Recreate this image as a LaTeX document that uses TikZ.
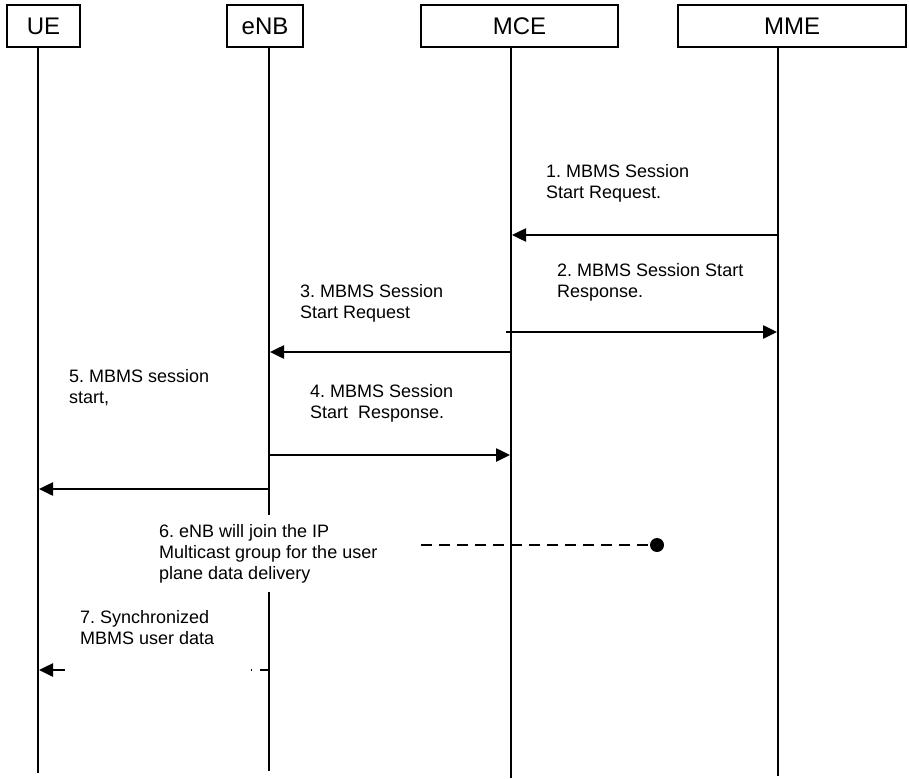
\documentclass[tikz,border=0pt]{standalone}
\usepackage{fontspec}
\setmainfont{Liberation Sans}
\usetikzlibrary{arrows.meta}
\frenchspacing

\begin{document}
\begin{tikzpicture}[x=1pt,y=-1pt,>={Triangle[length=14pt,width=13pt]},
  entity/.style={draw,line width=1.2pt,minimum height=42pt,inner sep=0pt,font=\fontsize{24}{28}\selectfont},
  life/.style={line width=1.5pt},
  msg/.style={->,line width=2.5pt},
  lbl/.style={anchor=north west,align=left,inner sep=0pt,font=\fontsize{18}{21}\selectfont}]
  \useasboundingbox (0,0) rectangle (909,778);
  % Entities
  \node[entity,minimum width=73pt] (ue) at (43.5,26) {UE};
  \node[entity,minimum width=76pt] (enb) at (265,26) {eNB};
  \node[entity,minimum width=197pt] (mce) at (519.5,26) {MCE};
  \node[entity,minimum width=228pt] (mme) at (792,26) {MME};
  % Lifelines
  \coordinate (ue-end) at (38,773);
  \coordinate (enb-end) at (269,771);
  \coordinate (mce-end) at (511,778);
  \coordinate (mme-end) at (778,776);
  \draw[life] (ue.south -| ue-end) -- (ue-end);
  \draw[life] (enb.south -| enb-end) -- (enb-end);
  \draw[life] (mce.south -| mce-end) -- (mce-end);
  \draw[life] (mme.south -| mme-end) -- (mme-end);
  % Messages
  \coordinate (m1a) at (778,235);  \coordinate (m1b) at (512,235);
  \coordinate (m2a) at (506,332);  \coordinate (m2b) at (777,332);
  \coordinate (m3a) at (511,352);  \coordinate (m3b) at (270,352);
  \coordinate (m4a) at (269,455);  \coordinate (m4b) at (510,455);
  \coordinate (m5a) at (269,489);  \coordinate (m5b) at (39,489);
  \coordinate (m6a) at (421,545);
  \coordinate (m7a) at (269,670);  \coordinate (m7b) at (39,670);
  \draw[msg] (m1a) -- (m1b);
  \draw[msg] (m2a) -- (m2b);
  \draw[msg] (m3a) -- (m3b);
  \draw[msg] (m4a) -- (m4b);
  \draw[msg] (m5a) -- (m5b);
  \node[circle,fill,inner sep=0pt,minimum size=14pt] (join) at (657,545) {};
  \draw[line width=2.5pt,dash pattern=on 11pt off 7pt] (m6a) -- (join);
  \draw[msg,dash pattern=on 9pt off 8pt on 1.5pt off 185.5pt on 40pt] (m7a) -- (m7b);
  % Labels
  \node[lbl] (l1) at (546,164) {1. MBMS Session\\Start Request.};
  \node[lbl] (l2) at (557,263) {2. MBMS Session Start\\Response.};
  \node[lbl] (l3) at (300,284) {3. MBMS Session\\Start Request};
  \node[lbl] (l4) at (310,384) {4. MBMS Session\\Start~ Response.};
  \node[lbl] (l5) at (69,369) {5. MBMS session\\start,};
  \node[lbl,fill=white,inner ysep=9pt] (l6) at (159,515) {6. eNB will join the IP\\Multicast group for the user\\plane data delivery};
  \node[lbl] (l7) at (80,610) {7. Synchronized\\MBMS user data};
\end{tikzpicture}
\end{document}
